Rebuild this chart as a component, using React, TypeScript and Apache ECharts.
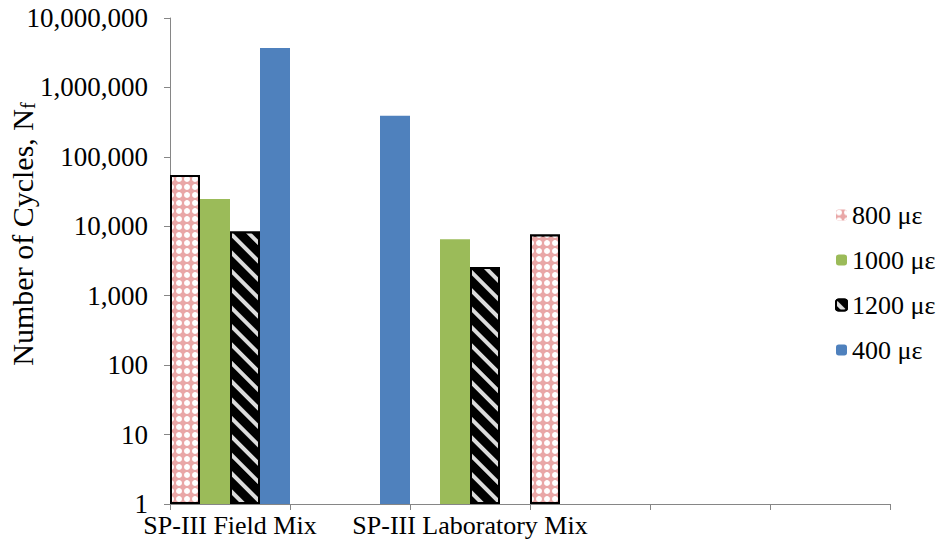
import React, { useEffect, useRef } from "react";
import * as echarts from "echarts";

const categories = ["SP-III Field Mix", "", "SP-III Laboratory Mix", "", "", ""];
const seriesNames = ["800 με", "1000 με", "1200 με", "400 με"];
const s800 = [55000, null, null, 7600, null, null];
const s1000 = [24800, null, 6500, null, null, null];
const s1200 = [8400, null, 2600, null, null, null];
const s400 = [3700000, 390000, null, null, null, null];

const FONT = "'Liberation Serif', 'Times New Roman', serif";

export default function App() {
  const ref = useRef<HTMLDivElement>(null);
  useEffect(() => {
    if (!ref.current) return;
    const chart = echarts.init(ref.current, null, { renderer: "svg" });
    const axisColor = "#868686";
    chart.setOption({
      animation: false,
      backgroundColor: "#ffffff",
      textStyle: { fontFamily: FONT },
      grid: {
        left: 170,
        right: 54,
        top: 18,
        bottom: 46,
        containLabel: false,
        outerBoundsMode: "none",
      },
      legend: {
        orient: "vertical",
        left: 830,
        top: 197,
        itemWidth: 11,
        itemHeight: 11,
        itemGap: 19,
        data: [
          { name: seriesNames[0], itemStyle: { borderWidth: 0 } },
          seriesNames[1],
          seriesNames[2],
          seriesNames[3],
        ],
        textStyle: { fontFamily: FONT, fontSize: 26, color: "#000", lineHeight: 25 },
      },
      xAxis: {
        type: "category",
        data: categories,
        boundaryGap: true,
        axisLine: { lineStyle: { color: axisColor, width: 1 } },
        axisTick: { show: true, alignWithLabel: false, interval: 0, length: 6, lineStyle: { color: axisColor } },
        axisLabel: { interval: 0, color: "#000", fontFamily: FONT, fontSize: 26, margin: 8 },
        splitLine: { show: false },
      },
      yAxis: {
        type: "log",
        logBase: 10,
        min: 1,
        max: 10000000,
        name: "Number of Cycles, N{sub|f}",
        nameLocation: "middle",
        nameGap: 132,
        nameRotate: 90,
        nameMoveOverlap: false,
        nameTextStyle: {
          fontFamily: FONT,
          fontSize: 30,
          color: "#000",
          lineHeight: 32,
          padding: [0, 0, 0, 54],
          rich: {
            sub: {
              fontFamily: FONT,
              fontSize: 20,
              color: "#000",
              lineHeight: 16,
              verticalAlign: "bottom",
            },
          },
        },
        axisLine: { show: true, lineStyle: { color: axisColor, width: 1 } },
        axisTick: { show: true, length: 6, lineStyle: { color: axisColor } },
        axisLabel: {
          color: "#000",
          fontFamily: FONT,
          fontSize: 27,
          margin: 22,
          formatter: (v: number) => Math.round(v).toLocaleString("en-US"),
        },
        splitLine: { show: false },
      },
      series: [
        {
          name: seriesNames[0],
          type: "bar",
          data: s800,
          barGap: "0%",
          barCategoryGap: "0%",
          itemStyle: {
            color: "#E9A7A7",
            borderColor: "#000",
            borderWidth: 2,
            decal: {
              symbol: "circle",
              symbolSize: 1,
              color: "#ffffff",
              dashArrayX: [6, 2],
              dashArrayY: [6, 2],
            },
          },
        },
        {
          name: seriesNames[1],
          type: "bar",
          data: s1000,
          barGap: "0%",
          barCategoryGap: "0%",
          itemStyle: { color: "#9BBB59" },
        },
        {
          name: seriesNames[2],
          type: "bar",
          data: s1200,
          barGap: "0%",
          barCategoryGap: "0%",
          itemStyle: {
            color: "#000000",
            borderColor: "#000",
            borderWidth: 2,
            decal: {
              symbol: "rect",
              symbolSize: 1,
              color: "#dcdcdc",
              dashArrayX: [1, 0],
              dashArrayY: [4, 9],
              rotation: Math.PI / 4,
            },
          },
        },
        {
          name: seriesNames[3],
          type: "bar",
          data: s400,
          barGap: "0%",
          barCategoryGap: "0%",
          itemStyle: { color: "#4F81BD" },
        },
      ],
    });
    return () => chart.dispose();
  }, []);
  return (
    <div
      ref={ref}
      style={{ position: "fixed", left: 0, top: 0, width: 944, height: 550, background: "#fff" }}
    />
  );
}
